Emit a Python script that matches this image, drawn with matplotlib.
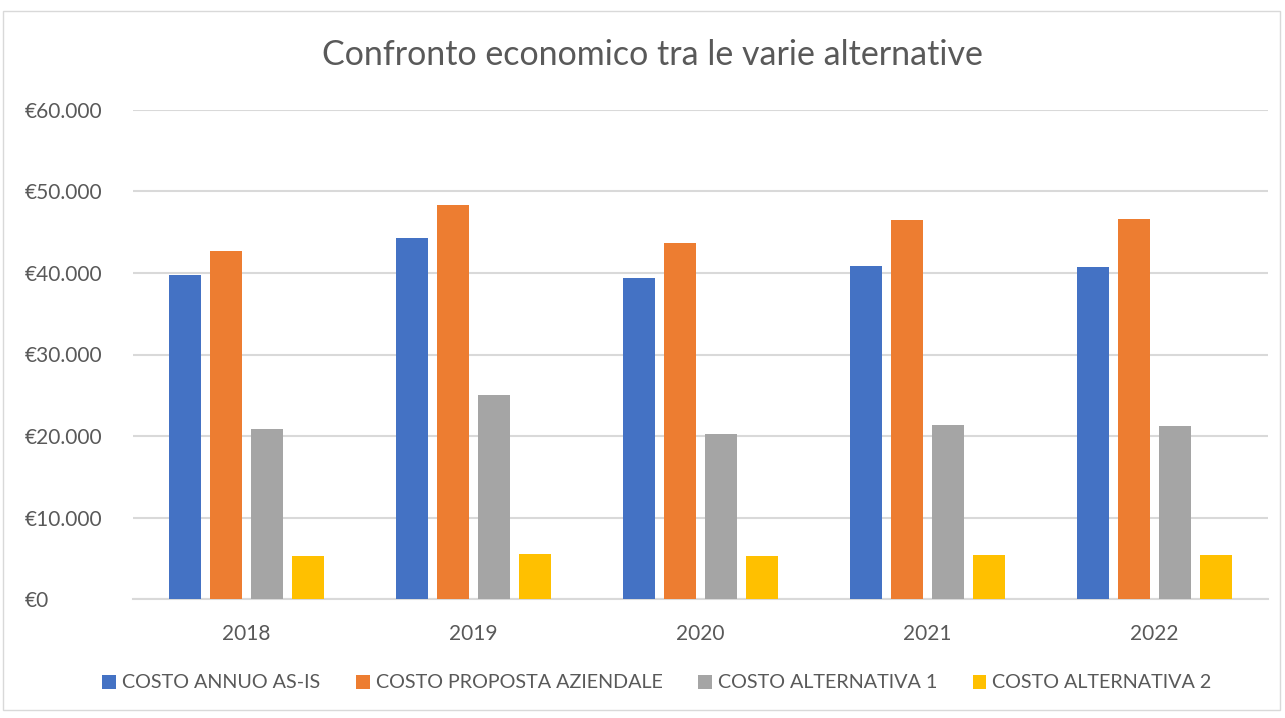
import matplotlib.pyplot as plt
import numpy as np
from matplotlib.patches import Rectangle
from matplotlib.ticker import FuncFormatter

plt.rcParams['font.family'] = ['Lato', 'DejaVu Sans']

years = ['2018', '2019', '2020', '2021', '2022']
costo_as_is = [39800, 44300, 39400, 40800, 40700]
costo_proposta = [42700, 48400, 43700, 46500, 46600]
costo_alt1 = [20900, 25000, 20200, 21400, 21200]
costo_alt2 = [5300, 5500, 5300, 5400, 5400]

series = [
    ('COSTO ANNUO AS-IS', costo_as_is, '#4472C4'),
    ('COSTO PROPOSTA AZIENDALE', costo_proposta, '#ED7D31'),
    ('COSTO ALTERNATIVA 1', costo_alt1, '#A5A5A5'),
    ('COSTO ALTERNATIVA 2', costo_alt2, '#FFC000'),
]

text_col = '#595959'

fig = plt.figure(figsize=(12.85, 7.18), dpi=100)
# chart border
fig.patches.append(Rectangle((3 / 1285, 8 / 718), 1277 / 1285, 699 / 718,
                             transform=fig.transFigure, fill=False,
                             edgecolor='#D9D9D9', linewidth=1))

ax = fig.add_axes([133 / 1285, 1 - 599 / 718, 1135 / 1285, 489 / 718])

x = np.arange(len(years))
width = 0.141
step = 0.181
for i, (name, vals, col) in enumerate(series):
    ax.bar(x + (i - 1.5) * step, vals, width, color=col, label=name, zorder=3)

ax.set_xlim(-0.5, len(years) - 0.5)
ax.set_ylim(0, 60000)
ax.set_yticks(np.arange(0, 60001, 10000))
ax.yaxis.set_major_formatter(FuncFormatter(lambda v, p: '€' + f'{int(v):,}'.replace(',', '.')))
ax.set_xticks(x)
ax.set_xticklabels(years)
ax.grid(axis='y', color='#D9D9D9', linewidth=1.5, zorder=0)
for s in ['top', 'right', 'left']:
    ax.spines[s].set_visible(False)
ax.spines['bottom'].set_color('#D9D9D9')
ax.spines['bottom'].set_linewidth(1.5)
ax.tick_params(axis='both', length=0, labelsize=15, labelcolor=text_col)
# left-aligned euro labels starting near the chart border
ax.tick_params(axis='y', pad=108 * 0.72)
ax.tick_params(axis='x', pad=18)
for lbl in ax.get_yticklabels():
    lbl.set_horizontalalignment('left')

fig.text(652 / 1285, 1 - 55 / 718, 'Confronto economico tra le varie alternative',
         ha='center', va='center', fontsize=24.5, color=text_col)

fig.legend(loc='center', bbox_to_anchor=(657 / 1285, 1 - 683 / 718), ncol=4,
           frameon=False, fontsize=14.2, labelcolor=text_col, handlelength=0.7,
           handleheight=0.7, handletextpad=0.3, columnspacing=1.8)

fig.savefig('out.png', dpi=100)
